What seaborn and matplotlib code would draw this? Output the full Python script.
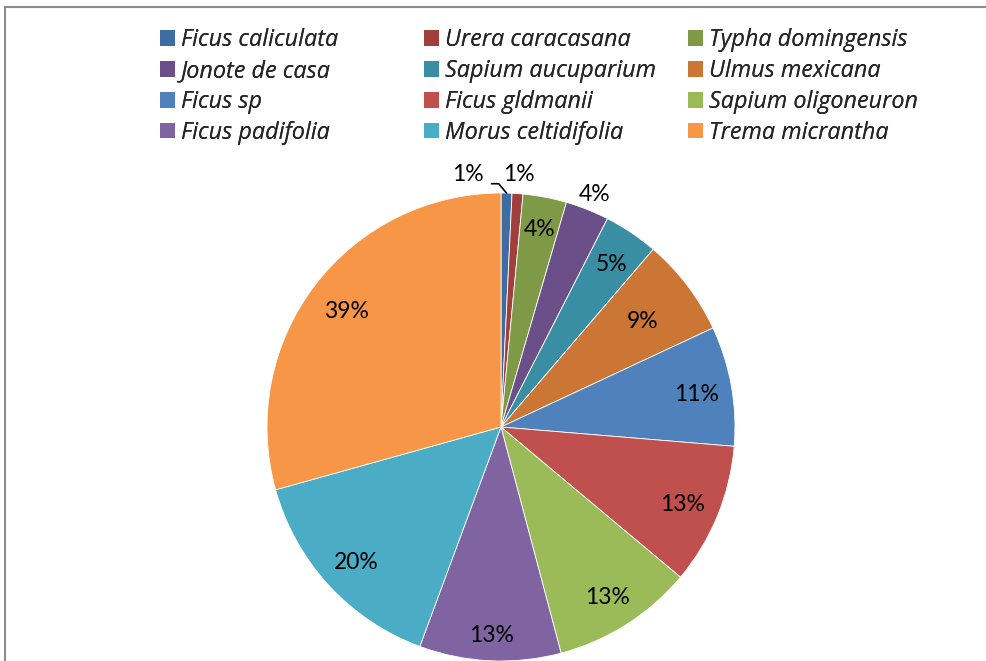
import matplotlib
matplotlib.use("Agg")
import matplotlib.pyplot as plt
import seaborn as sns
import numpy as np
from matplotlib.patches import Rectangle, Patch

species = ["Ficus caliculata", "Urera caracasana", "Typha domingensis",
           "Jonote de casa", "Sapium aucuparium", "Ulmus mexicana",
           "Ficus sp", "Ficus gldmanii", "Sapium oligoneuron",
           "Ficus padifolia", "Morus celtidifolia", "Trema micrantha"]
values = [1, 1, 4, 4, 5, 9, 11, 13, 13, 13, 20, 39]
colors = ["#3F6CA2", "#A13F3D", "#7E9A47", "#6A4F88", "#3A8EA3", "#CB7635",
          "#4F81BD", "#C0504D", "#9BBB59", "#8064A2", "#4BACC6", "#F79646"]

sns.set_theme(style="white")
plt.rcParams['font.family'] = ['Lato', 'DejaVu Sans']

W, H = 987, 661
fig = plt.figure(figsize=(W / 100, H / 100), dpi=100)
fig.patch.set_facecolor("white")

cx, cy, r = 501, 427, 234
ax = fig.add_axes([(cx - r) / W, (H - cy - r) / H, 2 * r / W, 2 * r / H])
wedges, _ = ax.pie(values, colors=colors, startangle=90, counterclock=False,
                   radius=1, wedgeprops=dict(linewidth=0.6, edgecolor="white"))
ax.set_xlim(-1, 1)
ax.set_ylim(-1, 1)
ax.set_aspect("equal")
ax.axis("off")

dist = [None, 1.09, 0.87, 1.08, 0.85, 0.76, 0.85, 0.84, 0.85, 0.88, 0.84, 0.83]
lab_font = dict(fontsize=16.5, color="black", family=["Lato", "DejaVu Sans"])
for i, (w, v) in enumerate(zip(wedges, values)):
    th = np.deg2rad((w.theta1 + w.theta2) / 2)
    txt = f"{v}%"
    if dist[i] is None:
        ax.annotate(txt, xy=(np.cos(th), np.sin(th)), xytext=(-0.14, 1.08),
                    ha="center", va="center", annotation_clip=False,
                    arrowprops=dict(arrowstyle="-", color="black", lw=1.2,
                                    connectionstyle="angle,angleA=0,angleB=-50,rad=0",
                                    shrinkA=3, shrinkB=0, relpos=(1, 0.05)),
                    **lab_font)
    else:
        ax.text(dist[i] * np.cos(th), dist[i] * np.sin(th) - 0.01, txt,
                ha="center", va="center", clip_on=False, **lab_font)

# legend: three columns, filled row-wise
col_x = [160, 424, 688]
prop = dict(style="italic", size=16.8, family="Open Sans")
for c in range(3):
    idx = [c, c + 3, c + 6, c + 9]
    handles = [Patch(facecolor=colors[k], edgecolor="none") for k in idx]
    leg = fig.legend(handles, [species[k] for k in idx], loc="upper left",
                     bbox_to_anchor=(col_x[c] / W, 1 - 28.5 / H), frameon=False,
                     prop=prop, handlelength=0.66, handleheight=0.66,
                     handletextpad=0.22, labelspacing=0.29, borderpad=0,
                     borderaxespad=0)
    fig.add_artist(leg)

# chart border
fig.add_artist(Rectangle((5.5 / W, -0.05), 1.2, 1 - 6.5 / H + 0.05,
                         transform=fig.transFigure, fill=False,
                         edgecolor="#8C8C8C", lw=1.5))

fig.savefig("out.png", dpi=100)
